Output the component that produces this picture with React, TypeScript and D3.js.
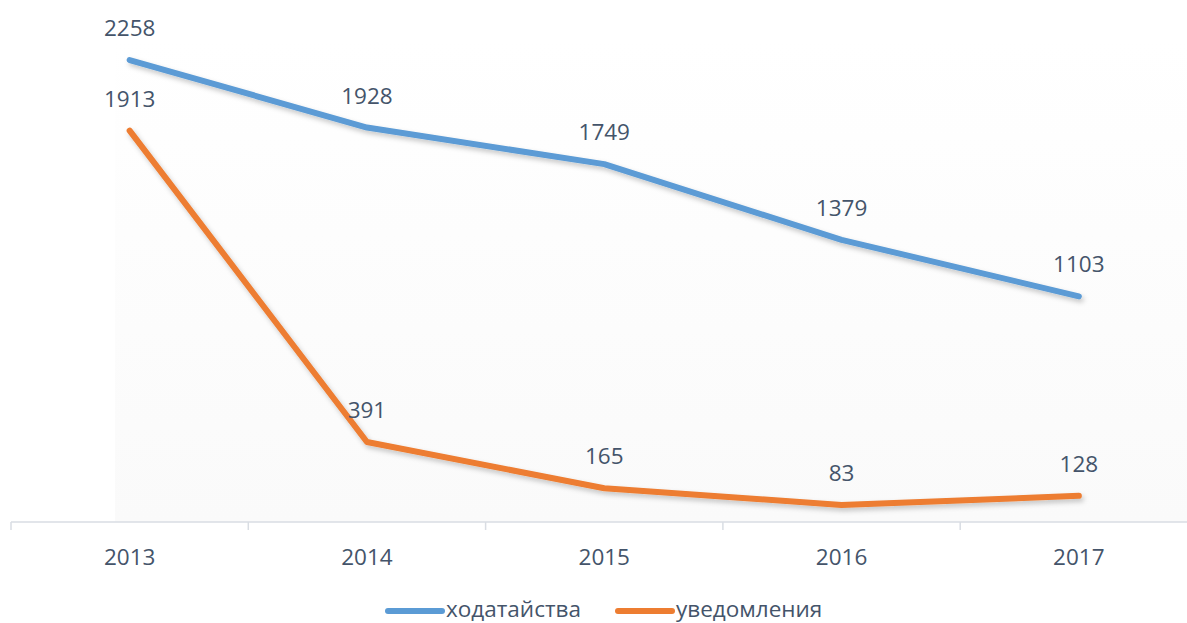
import React from "react";
import * as d3 from "d3";

const years = ["2013", "2014", "2015", "2016", "2017"];
const petitions = [2258, 1928, 1749, 1379, 1103];
const notices = [1913, 391, 165, 83, 128];
const seriesNames = ["ходатайства", "уведомления"];
const colors = ["#5B9BD5", "#ED7D31"];

const W = 1187, H = 623;
const left = 11, step = 237.3, axisY = 522, top = 10.5;
const font = "'Open Sans', sans-serif";
const textColor = "#44546A";

export default function App() {
  const x = d3.scaleBand<string>().domain(years).range([left, left + step * years.length]).padding(0);
  const y = d3.scaleLinear().domain([0, 2500]).range([axisY, top]);
  const cx = (d: string) => (x(d) as number) + x.bandwidth() / 2;
  const line = d3.line<number>().x((_, i) => cx(years[i])).y((v) => y(v));
  const all = [petitions, notices];
  const ticks = d3.range(years.length + 1).map((i) => left + i * x.bandwidth());
  return (
    <svg width={W} height={H} style={{ position: "absolute", left: 0, top: 0, background: "#fff" }}>
      <defs>
        <filter id="sh" x="-10%" y="-10%" width="120%" height="130%">
          <feDropShadow dx="2" dy="3" stdDeviation="2.5" floodColor="#000" floodOpacity="0.22" />
        </filter>
        <linearGradient id="bg" x1="0" x2="0" y1="0" y2="1">
          <stop offset="0" stopColor="#ffffff" />
          <stop offset="1" stopColor="#fafafa" />
        </linearGradient>
      </defs>
      <rect x={115} y={40} width={W - 115} height={axisY - 40} fill="url(#bg)" />
      <line x1={left} x2={W} y1={axisY} y2={axisY} stroke="#D9DDE3" strokeWidth={1.5} />
      {ticks.map((t, i) => (
        <line key={i} x1={t} x2={t} y1={axisY} y2={axisY + 8} stroke="#D9DDE3" strokeWidth={1.5} />
      ))}
      {years.map((yr) => (
        <text key={yr} x={cx(yr)} y={565} textAnchor="middle" fontFamily={font} fontSize={22.5} fill={textColor}>
          {yr}
        </text>
      ))}
      {all.map((s, k) => (
        <path key={k} d={line(s) || ""} fill="none" stroke={colors[k]} strokeWidth={6} strokeLinejoin="round" strokeLinecap="round" filter="url(#sh)" />
      ))}
      {all.map((s, k) =>
        s.map((v, i) => (
          <text key={k + "-" + i} x={cx(years[i])} y={y(v) - 24} textAnchor="middle" fontFamily={font} fontSize={22.5} fill={textColor}>
            {v}
          </text>
        ))
      )}
      {seriesNames.map((n, k) => {
        const lx = k === 0 ? 388 : 618;
        return (
          <g key={n}>
            <line x1={lx} x2={lx + 54} y1={611} y2={611} stroke={colors[k]} strokeWidth={6} strokeLinecap="round" />
            <text x={lx + 58} y={617} fontFamily={font} fontSize={22.5} fill={textColor}>{n}</text>
          </g>
        );
      })}
    </svg>
  );
}
